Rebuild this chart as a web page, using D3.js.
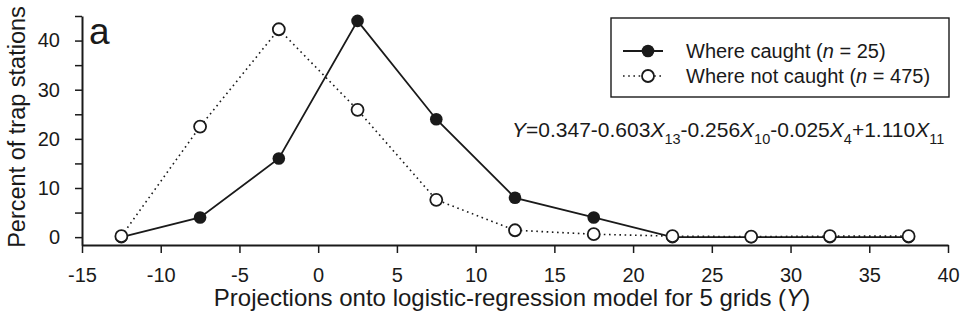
<!DOCTYPE html>
<html>
<head>
<meta charset="utf-8">
<script src="https://cdn.jsdelivr.net/npm/d3@7"></script>
<style>
  body { margin: 0; background: #fff; }
  text { font-family: "Liberation Sans", Arial, sans-serif; fill: #1a1a1a; }
</style>
</head>
<body>
<div id="chart"></div>
<script>
// bin midpoints of the projection (Y)
var binMids = [-12.5, -7.5, -2.5, 2.5, 7.5, 12.5, 17.5, 22.5, 27.5, 32.5, 37.5];
// percent of trap stations, where caught (n = 25)
var caught = [0, 4, 16, 44, 24, 8, 4, 0, 0, 0, 0];
// percent of trap stations, where not caught (n = 475)
var notCaught = [0.2, 22.5, 42.3, 25.9, 7.6, 1.4, 0.6, 0.2, 0.1, 0.2, 0.2];

var xTicks = [-15, -10, -5, 0, 5, 10, 15, 20, 25, 30, 35, 40];
var yTicks = [0, 5, 10, 15, 20, 25, 30, 35, 40, 45];

var legendLabels = ["Where caught", "Where not caught"];
var legendN = [25, 475];

var svgWidth = 969;
var svgHeight = 323;
var ink = "#1a1a1a";

var svg = d3.select("#chart")
  .append("svg")
  .attr("width", svgWidth)
  .attr("height", svgHeight);

var x = d3.scaleLinear().domain([-15, 40]).range([82, 948]);
var y = d3.scaleLinear().domain([-1.6, 45]).range([245, 16]);

// plain hyphen for negatives, like the original figure
var plain = function(d) { return String(d); };

// x axis
var xAxis = svg.append("g")
  .attr("transform", "translate(0," + y(-1.6) + ")")
  .call(d3.axisBottom(x).tickValues(xTicks).tickFormat(plain)
    .tickSize(8).tickSizeOuter(0).tickPadding(15));
xAxis.select(".domain").attr("stroke", ink).attr("stroke-width", 2);
xAxis.selectAll(".tick line").attr("stroke", ink).attr("stroke-width", 1.5);
xAxis.selectAll("text").style("font-size", "20px").attr("fill", ink);

// y axis
var yAxis = svg.append("g")
  .attr("transform", "translate(" + x(-15) + ",0)")
  .call(d3.axisLeft(y).tickValues(yTicks).tickSize(7).tickSizeOuter(0).tickPadding(15)
    .tickFormat(function(d) { return d % 10 === 0 ? d : ""; }));
yAxis.select(".domain").attr("stroke", ink).attr("stroke-width", 2);
yAxis.selectAll(".tick line").attr("stroke", ink).attr("stroke-width", 1.5);
yAxis.selectAll("text").style("font-size", "20px").attr("fill", ink);

// axis titles
var xTitle = svg.append("text")
  .attr("x", 512)
  .attr("y", 306)
  .attr("text-anchor", "middle")
  .style("font-size", "24px")
  .text("Projections onto logistic-regression model for 5 grids (");
xTitle.append("tspan").style("font-style", "italic").text("Y");
xTitle.append("tspan").text(")");

svg.append("text")
  .attr("transform", "translate(25,127) rotate(-90)")
  .attr("text-anchor", "middle")
  .style("font-size", "23.5px")
  .text("Percent of trap stations");

// panel letter
svg.append("text")
  .attr("x", 89)
  .attr("y", 44)
  .style("font-size", "37px")
  .text("a");

var line = d3.line()
  .x(function(d, i) { return x(binMids[i]); })
  .y(function(d) { return y(d); });

// where caught: solid line, filled circles
svg.append("path")
  .datum(caught)
  .attr("d", line)
  .attr("fill", "none")
  .attr("stroke", ink)
  .attr("stroke-width", 1.8);

svg.append("g").selectAll("circle")
  .data(caught)
  .enter()
  .append("circle")
  .attr("cx", function(d, i) { return x(binMids[i]); })
  .attr("cy", function(d) { return y(d); })
  .attr("r", 6.3)
  .attr("fill", ink);

// where not caught: dotted line, open circles
svg.append("path")
  .datum(notCaught)
  .attr("d", line)
  .attr("fill", "none")
  .attr("stroke", ink)
  .attr("stroke-width", 1.6)
  .attr("stroke-dasharray", "1.6,3.6");

svg.append("g").selectAll("circle")
  .data(notCaught)
  .enter()
  .append("circle")
  .attr("cx", function(d, i) { return x(binMids[i]); })
  .attr("cy", function(d) { return y(d); })
  .attr("r", 6)
  .attr("fill", "#fff")
  .attr("stroke", ink)
  .attr("stroke-width", 1.8);

// legend
var legend = svg.append("g");
legend.append("rect")
  .attr("x", 611)
  .attr("y", 18)
  .attr("width", 338)
  .attr("height", 79)
  .attr("fill", "#fff")
  .attr("stroke", ink)
  .attr("stroke-width", 1.4);

legendLabels.forEach(function(lab, i) {
  var cy = 51 + i * 25;
  legend.append("line")
    .attr("x1", 623).attr("x2", 663)
    .attr("y1", cy).attr("y2", cy)
    .attr("stroke", ink)
    .attr("stroke-width", i === 0 ? 1.8 : 1.6)
    .attr("stroke-dasharray", i === 0 ? null : "1.6,3.6");
  legend.append("circle")
    .attr("cx", 648).attr("cy", cy)
    .attr("r", i === 0 ? 6.3 : 6)
    .attr("fill", i === 0 ? ink : "#fff")
    .attr("stroke", ink)
    .attr("stroke-width", i === 0 ? 0 : 1.8);
  var t = legend.append("text")
    .attr("x", 686)
    .attr("y", cy + 6.5)
    .style("font-size", "20px")
    .text(lab + " (");
  t.append("tspan").style("font-style", "italic").text("n");
  t.append("tspan").text(" = " + legendN[i] + ")");
});

// model equation
var eqParts = [
  ["Y", "it"], ["=0.347-0.603", ""], ["X", "it"], ["13", "sub"],
  ["-0.256", ""], ["X", "it"], ["10", "sub"],
  ["-0.025", ""], ["X", "it"], ["4", "sub"],
  ["+1.110", ""], ["X", "it"], ["11", "sub"]
];
var eq = svg.append("text")
  .attr("x", 512)
  .attr("y", 137)
  .style("font-size", "21px");
var shifted = false;
eqParts.forEach(function(p) {
  var ts = eq.append("tspan").text(p[0]);
  if (p[1] === "it") ts.style("font-style", "italic");
  if (p[1] === "sub") {
    ts.style("font-size", "14.5px").attr("dy", 7);
    shifted = true;
  } else if (shifted) {
    ts.attr("dy", -7);
    shifted = false;
  }
});
</script>
</body>
</html>
